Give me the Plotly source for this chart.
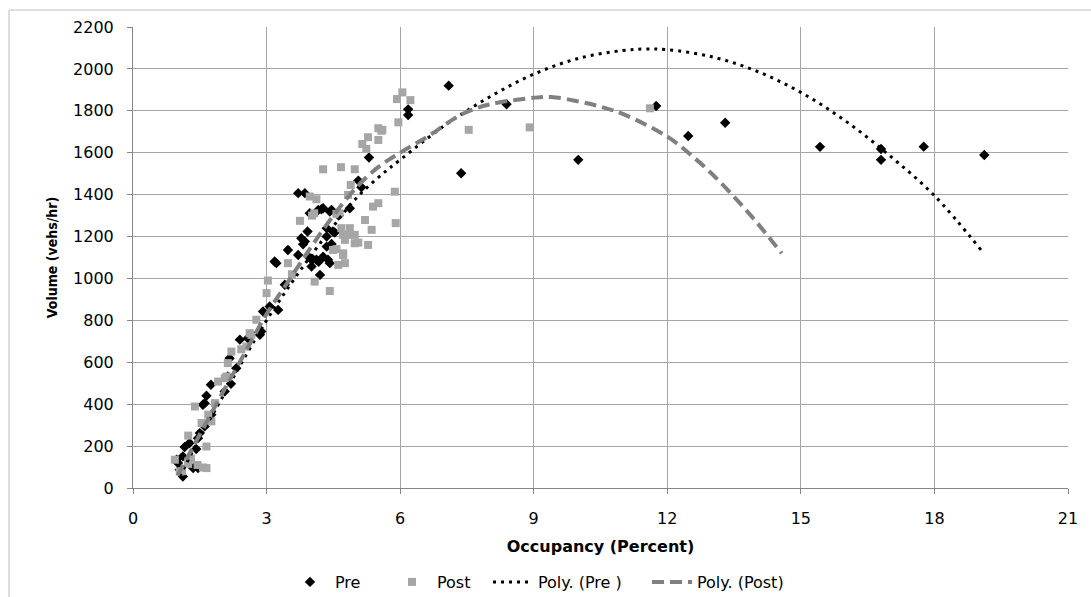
import plotly.graph_objects as go

# ---------------- data ----------------
pre_x = [1.12, 1.05, 0.98, 1.01, 1.12, 1.16, 1.27, 1.42, 1.46, 1.35, 1.46, 1.50, 1.61, 1.76,
         1.61, 1.57, 1.65, 1.75, 2.06, 2.20, 2.13, 2.17, 2.32, 2.40, 2.58, 2.88, 2.85, 2.92,
         3.07, 3.26, 3.41, 3.18, 3.22,
         3.48, 3.71, 3.97, 4.04, 4.12, 4.17, 4.27, 4.38, 4.42, 4.20, 4.01, 3.86, 3.82, 3.78,
         3.92, 4.35, 4.53, 4.49, 4.35, 4.35, 4.46, 3.71, 3.86, 4.16, 4.23, 4.27, 4.42, 4.46,
         3.97, 4.87, 4.62, 5.06, 5.13, 5.30, 6.18, 6.18,
         7.09, 7.37, 8.39, 10.0, 11.75, 12.47, 13.30, 15.43, 16.80, 16.80, 17.76, 19.12]
pre_y = [55, 87, 135, 119, 151, 196, 215, 186, 95, 95, 238, 262, 294, 350,
         405, 397, 440, 493, 461, 497, 532, 619, 572, 708, 715, 747, 731, 842,
         866, 850, 970, 1081, 1073,
         1136, 1112, 1097, 1092, 1089, 1080, 1104, 1089, 1073, 1017, 1057, 1176, 1163, 1192,
         1224, 1240, 1219, 1224, 1200, 1152, 1165, 1407, 1407, 1327, 1330, 1335, 1319, 1327,
         1311, 1335, 1300, 1467, 1435, 1577, 1807, 1780,
         1920, 1502, 1831, 1566, 1823, 1680, 1743, 1628, 1618, 1566, 1629, 1589]

post_x = [0.94, 1.05, 1.10, 1.24, 1.24, 1.30, 1.45, 1.57, 1.65, 1.65, 1.24, 1.54, 1.76, 1.69,
          1.39, 1.84, 1.91, 2.10, 2.06, 2.13, 2.21, 2.43, 2.55, 2.62, 2.66, 2.77, 3.00, 3.03,
          3.48, 4.08, 4.42, 3.57,
          3.75, 3.97, 4.12, 4.07, 4.02, 4.27, 4.67, 4.98, 4.89, 4.83, 4.57, 4.64, 4.68, 4.87,
          4.87, 4.72, 4.98, 4.76, 4.98, 5.06, 5.28, 4.49, 4.57, 4.72, 4.72, 4.76, 4.61, 5.21,
          5.36, 5.39, 5.51, 5.88, 5.90, 5.15, 5.24, 5.28, 5.51, 5.51, 5.58, 5.96, 5.93, 6.05,
          6.23, 5.60,
          7.54, 8.91, 11.61]
post_y = [135, 79, 80, 115, 127, 140, 110, 98, 95, 198, 250, 310, 318, 350,
          389, 405, 508, 532, 524, 596, 651, 662, 675, 739, 731, 803, 930, 990,
          1073, 985, 940, 1020,
          1275, 1391, 1378, 1311, 1300, 1521, 1531, 1521, 1446, 1399, 1308, 1311, 1240, 1240,
          1208, 1208, 1208, 1184, 1168, 1171, 1160, 1136, 1140, 1120, 1112, 1073, 1065, 1279,
          1232, 1343, 1359, 1414, 1264, 1642, 1618, 1674, 1661, 1717, 1705, 1745, 1856, 1888,
          1851, 1709,
          1709, 1721, 1812]

# trend lines (Excel polynomial trendlines)
poly_pre_x = [1.05, 1.5, 2.0, 2.5, 3.0, 3.5, 4.0, 4.5, 5.0, 5.5, 6.0, 7.0, 8.0, 9.0, 10.0,
              11.0, 11.5, 12.0, 13.0, 14.0, 15.0, 16.0, 17.0, 18.0, 19.05]
poly_pre_y = [55, 240, 430, 620, 800, 960, 1110, 1250, 1380, 1480, 1566, 1730, 1865, 1975, 2050,
              2088, 2095, 2092, 2058, 1990, 1888, 1752, 1585, 1395, 1135]
poly_post_x = [1.0, 1.5, 2.0, 2.5, 3.0, 3.5, 4.0, 4.5, 5.0, 5.5, 6.0, 6.6, 7.4, 8.0, 9.0, 9.4,
               10.0, 10.5, 11.0, 12.0, 12.5, 13.0, 13.5, 14.0, 14.57]
poly_post_y = [60, 255, 450, 640, 830, 990, 1150, 1300, 1430, 1530, 1600, 1675, 1785, 1830, 1862,
               1866, 1845, 1820, 1785, 1677, 1595, 1500, 1390, 1270, 1120]

x_ticks = [0, 3, 6, 9, 12, 15, 18, 21]
y_ticks = list(range(0, 2201, 200))

# ---------------- figure ----------------
FONT = "DejaVu Sans"
L, R, T, B = 133, 23, 27, 109
W, H = 1091, 597
pw, ph = W - L - R, H - T - B

def px2paper_x(p):
    return (p - L) / pw

def px2paper_y(p):
    return (H - B - p) / ph

fig = go.Figure()
fig.add_trace(go.Scatter(x=pre_x, y=pre_y, mode="markers", name="Pre",
                         marker=dict(symbol="diamond", size=8, color="#000000"),
                         legend="legend"))
fig.add_trace(go.Scatter(x=post_x, y=post_y, mode="markers", name="Post",
                         marker=dict(symbol="square", size=8, color="#A6A6A6"),
                         legend="legend2"))
fig.add_trace(go.Scatter(x=poly_pre_x, y=poly_pre_y, mode="lines", name="Poly. (Pre )",
                         line=dict(color="#000000", width=3, dash="3px,5px", shape="spline"),
                         legend="legend3"))
fig.add_trace(go.Scatter(x=poly_post_x, y=poly_post_y, mode="lines", name="Poly. (Post)",
                         line=dict(color="#808080", width=4, dash="12px,6px", shape="spline"),
                         legend="legend4"))

leg_common = dict(orientation="h", yanchor="middle", y=px2paper_y(582), xanchor="left",
                  itemwidth=40,
                  font=dict(family=FONT, size=16, color="#000000"),
                  bgcolor="rgba(0,0,0,0)", borderwidth=0)

fig.update_layout(
    width=W, height=H,
    margin=dict(l=L, r=R, t=T, b=B, autoexpand=False),
    paper_bgcolor="white", plot_bgcolor="white",
    showlegend=True,
    legend=dict(x=px2paper_x(285), **leg_common),
    legend2=dict(x=px2paper_x(387), **leg_common),
    legend3=dict(x=px2paper_x(488), **leg_common),
    legend4=dict(x=px2paper_x(647), **leg_common),
    xaxis=dict(range=[0, 21], tickvals=x_ticks, ticktext=[str(v) for v in x_ticks],
               showgrid=True, gridcolor="#A6A6A6", gridwidth=1,
               showline=True, linecolor="#868686", linewidth=1,
               ticks="outside", ticklen=5, tickcolor="#868686",
               ticklabelstandoff=11, automargin=False,
               zeroline=False,
               tickfont=dict(family=FONT, size=16, color="#000000"),
               title=dict(text="Occupancy (Percent)", standoff=13,
                          font=dict(family=FONT, size=16, color="#000000", weight="bold"))),
    yaxis=dict(range=[0, 2200], tickvals=y_ticks, ticktext=[str(v) for v in y_ticks],
               showgrid=True, gridcolor="#A6A6A6", gridwidth=1,
               showline=True, linecolor="#868686", linewidth=1,
               ticks="outside", ticklen=5, tickcolor="#868686",
               ticklabelstandoff=10, automargin=False,
               zeroline=False,
               tickfont=dict(family=FONT, size=16, color="#000000"),
               title=dict(text="Volume (vehs/hr)", standoff=12,
                          font=dict(family="DejaVu Sans Condensed, DejaVu Sans", size=14,
                                    color="#000000", weight="bold"))),
    shapes=[dict(type="rect", xref="paper", yref="paper",
                 x0=px2paper_x(9), x1=px2paper_x(1110),
                 y0=px2paper_y(620), y1=px2paper_y(10),
                 line=dict(color="#BFBFBF", width=1), fillcolor="rgba(0,0,0,0)",
                 layer="below")],
)

fig.write_html("out.html")
